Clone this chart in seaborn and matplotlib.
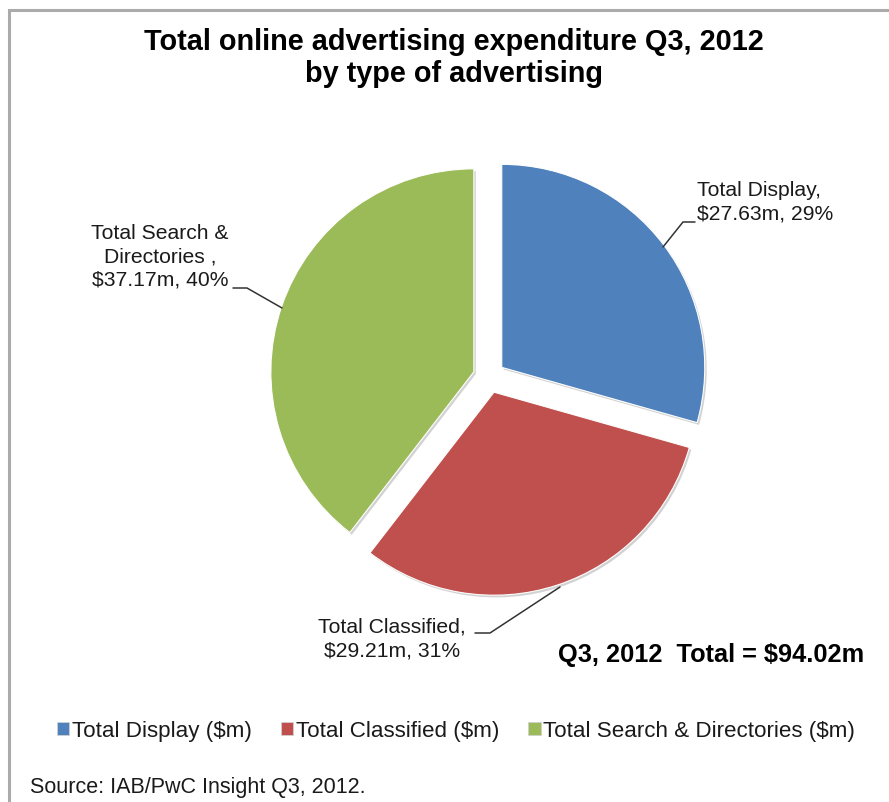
import matplotlib
matplotlib.use("Agg")
import matplotlib.pyplot as plt
from matplotlib.lines import Line2D
from matplotlib.patches import Patch
import seaborn as sns

# Q3 2012 online advertising spend by type ($m)
categories = ["Total Display", "Total Classified", "Total Search & Directories"]
values = [27.63, 29.21, 37.17]
percents = [29, 31, 40]
legend_labels = ["Total Display ($m)", "Total Classified ($m)", "Total Search & Directories ($m)"]
label_texts = [
    "Total Display,\n$27.63m, 29%",
    "Total Classified,\n$29.21m, 31%",
    "Total Search &\nDirectories ,\n$37.17m, 40%",
]
total_text = "Q3, 2012  Total = $94.02m"
title_text = "Total online advertising expenditure Q3, 2012\nby type of advertising"
source_text = "Source: IAB/PwC Insight Q3, 2012."

sns.set_theme(style="white")
plt.rcParams["font.family"] = ["Liberation Sans", "DejaVu Sans"]
palette = sns.color_palette(["#4F81BD", "#C0504D", "#9BBB59"])

W, H = 889, 802
fig = plt.figure(figsize=(W / 100, H / 100), dpi=100)
fig.patch.set_facecolor("white")
ax = fig.add_axes([0, 0, 1, 1])


def py(y):
    """Convert a top-down pixel row to the axes' y coordinate."""
    return H - y


wedges, _ = ax.pie(
    values,
    colors=palette,
    startangle=90,
    counterclock=False,
    explode=[16, 16, 16],
    radius=203,
    center=(489, py(377)),
    frame=True,
    wedgeprops=dict(edgecolor="white", linewidth=0.8),
    shadow=dict(ox=1.4, oy=-1.6, facecolor="#7f7f7f", edgecolor="none", alpha=0.35),
)
ax.set_xlim(0, W)
ax.set_ylim(0, H)
ax.set_aspect("equal")
ax.axis("off")

# frame around the chart area
ax.add_line(Line2D([9, 9, W], [0, py(10), py(10)], color="#ababab", lw=2.2,
                   solid_joinstyle="miter", clip_on=False))

# title
ax.text(454, py(58), title_text, ha="center", va="center", fontsize=20.8,
        fontweight="bold", color="black", linespacing=1.2)

# data labels with leader lines
lbl_kw = dict(fontsize=15.2, color="#1a1a1a", linespacing=1.3)
ax.text(697, py(202), label_texts[0], ha="left", va="center", **lbl_kw)
ax.plot([663, 683, 695], [py(247), py(222), py(222)], color="#333333", lw=1.1)

ax.text(392, py(639), label_texts[1], ha="center", va="center", **lbl_kw)
ax.plot([475, 490, 560], [py(633), py(633), py(587)], color="#333333", lw=1.1)

ax.text(160, py(257), label_texts[2], ha="center", va="center", **lbl_kw)
ax.plot([233, 247, 282], [py(288), py(288), py(308)], color="#333333", lw=1.1)

# total annotation
ax.text(711, py(655), total_text, ha="center", va="center", fontsize=18.3,
        fontweight="bold", color="black")

# legend
handles = [Patch(facecolor=c, edgecolor="#d0d0d0", linewidth=0.6) for c in palette]
leg = ax.legend(handles, legend_labels, ncol=3, frameon=False,
                loc="center left", bbox_to_anchor=(57 / W, 1 - 731 / H),
                bbox_transform=fig.transFigure, borderaxespad=0, borderpad=0,
                handlelength=0.55, handleheight=0.55, handletextpad=0.12,
                columnspacing=1.3, fontsize=16.1)
for t in leg.get_texts():
    t.set_color("#1a1a1a")

# source note
ax.text(30, py(787), source_text, ha="left", va="center", fontsize=15.5,
        color="#1a1a1a")

fig.savefig("out.png", dpi=100)
